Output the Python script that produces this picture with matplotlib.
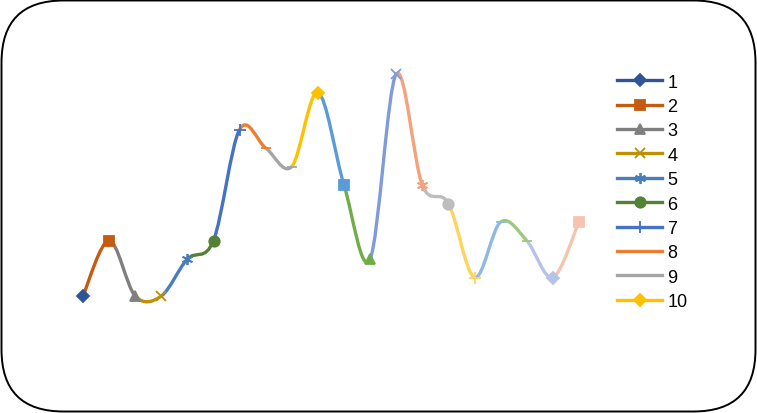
import matplotlib
matplotlib.use('Agg')
import matplotlib.pyplot as plt
from matplotlib.path import Path
from matplotlib.patches import PathPatch, FancyBboxPatch
from matplotlib.lines import Line2D

# point values (one point per category)
values = [1, 4, 1, 1, 3, 4, 10, 9, 8, 12, 7, 3, 13, 7, 6, 2, 5, 4, 2, 5]

# Excel "vary colours by point" palette: dark, normal, light shades
point_colors = ['#2F5597', '#C55A11', '#7F7F7F', '#BF9000', '#4A7EBB', '#548235',
                '#4472C4', '#ED7D31', '#A5A5A5', '#FFC000', '#5B9BD5', '#70AD47',
                '#7F9BDB', '#F4A27C', '#BDBDBD', '#FFD45C', '#8FB9E3', '#9CC97E',
                '#B4C3E6', '#F6C3AE']

point_markers = ['D', 's', '^', 'x', (6, 2, 0), 'o', '+', '_', '_',
                 'D', 's', '^', 'x', (6, 2, 0), 'o', '+', '_', '_',
                 'D', 's']

legend_labels = ['1', '2', '3', '4', '5', '6', '7', '8', '9', '10']

marker_size = {'D': 6.5, 's': 7.5, '^': 7.5, 'x': 7, 'o': 7.5, '+': 8, '_': 7}

def msize(m):
    return marker_size.get(m, 8) if isinstance(m, str) else 8

fig = plt.figure(figsize=(7.57, 4.14), dpi=100)
ax = fig.add_axes([0, 0, 1, 1])
ax.set_xlim(-83 / 26.1, (757 - 83) / 26.1)
ax.set_ylim(1 - 117 / 18.5, 1 + 297 / 18.5)
ax.axis('off')

n = len(values)
xs = list(range(n))

# smoothed line, one cubic bezier per segment, coloured by the end point
for i in range(n - 1):
    a = max(i - 1, 0)
    b = min(i + 2, n - 1)
    c1 = (xs[i] + (xs[i + 1] - xs[a]) / 6, values[i] + (values[i + 1] - values[a]) / 6)
    c2 = (xs[i + 1] - (xs[b] - xs[i]) / 6, values[i + 1] - (values[b] - values[i]) / 6)
    verts = [(xs[i], values[i]), c1, c2, (xs[i + 1], values[i + 1])]
    codes = [Path.MOVETO, Path.CURVE4, Path.CURVE4, Path.CURVE4]
    ax.add_patch(PathPatch(Path(verts, codes), fill=False, ec=point_colors[i + 1],
                           lw=2.4, capstyle='butt', zorder=2))

for i in range(n):
    m = point_markers[i]
    ax.plot(xs[i], values[i], linestyle='none', marker=m, ms=msize(m),
            color=point_colors[i], mec=point_colors[i], mew=1.3, zorder=3)

handles = []
for i in range(len(legend_labels)):
    m = point_markers[i]
    handles.append(Line2D([], [], color=point_colors[i], lw=2.4, marker=m,
                          ms=msize(m), mec=point_colors[i], mew=1.3))

ax.legend(handles, legend_labels, loc='upper left', bbox_to_anchor=(0.815, 0.82),
          bbox_transform=fig.transFigure, frameon=False, borderpad=0, borderaxespad=0,
          handlelength=2.5, handletextpad=0.28, labelspacing=0.41,
          prop={'family': 'Liberation Sans', 'size': 13})

# rounded chart border
border = FancyBboxPatch((0.015, 0.015), 7.54, 4.11,
                        boxstyle='round,pad=0,rounding_size=0.62',
                        transform=fig.dpi_scale_trans, fill=False, ec='black', lw=1.4)
fig.add_artist(border)

fig.savefig('out.png', dpi=100)
